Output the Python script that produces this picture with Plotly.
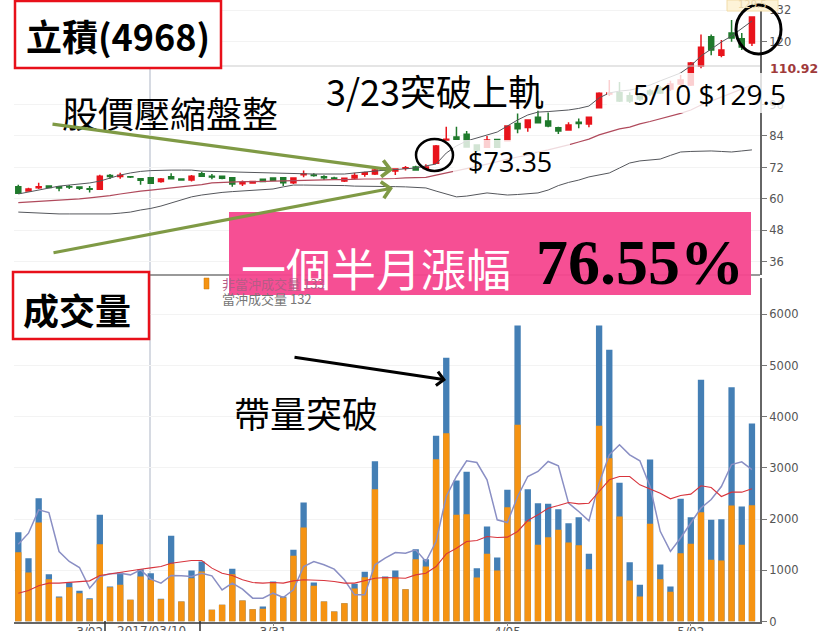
import plotly.graph_objects as go

W = 820
H = 631

# price panel (bar 1 .. bar 73)
bar_no = list(range(1, 74))
open_ = [64.7, 63.0, 64.3, 64.9, 64.7, 64.7, 64.6, 63.9, 63.7, 68.9, 68.6, 68.5, 67.7, 68.1, 66.7, 68.5, 67.6, 67.2, 69.6, 68.7,
         68.7, 68.1, 65.8, 66.1, 67.5, 68.0, 68.1, 66.2, 69.2, 69.1, 68.5, 68.0, 66.8, 68.0, 69.4, 69.5, 71.8, 70.7, 71.7, 72.2,
         71.6, 73.6, 82.5, 83.6, 84.7, 80.6, 79.7, 82.7, 82.2, 88.8, 87.2, 91.1, 89.7, 87.1, 86.3, 89.2, 88.6, 94.8, 100.0, 100.5,
         99.3, 99.2, 101.1, 102.3, 101.9, 103.8, 103.4, 110.7, 121.8, 114.8, 123.2, 121.0, 119.4]
high = [65.4, 64.3, 66.2, 65.0, 64.8, 65.3, 64.7, 64.9, 69.2, 69.5, 70.0, 68.7, 68.0, 68.2, 68.0, 69.8, 67.9, 69.1, 70.4, 69.5,
        68.9, 68.3, 67.0, 66.8, 67.6, 68.1, 68.2, 68.3, 70.8, 69.8, 69.0, 68.5, 68.0, 70.0, 70.4, 71.8, 71.9, 71.5, 72.6, 72.7,
        73.2, 80.6, 87.5, 87.5, 85.9, 80.7, 84.0, 82.8, 88.0, 92.6, 90.4, 93.6, 92.9, 87.5, 89.2, 90.7, 91.1, 100.7, 105.3, 104.6,
        100.7, 100.4, 101.9, 103.0, 105.0, 107.2, 112.2, 122.7, 122.7, 120.6, 128.2, 123.2, 129.5]
low = [62.2, 62.8, 63.8, 64.3, 62.9, 63.8, 63.4, 62.5, 63.4, 67.6, 67.7, 68.0, 65.4, 65.8, 66.2, 67.7, 67.1, 66.7, 68.5, 67.5,
       67.5, 64.7, 64.9, 66.0, 66.5, 67.0, 64.9, 65.7, 68.3, 68.5, 67.2, 67.2, 66.5, 67.5, 68.5, 69.1, 70.6, 69.1, 70.8, 70.8,
       71.0, 73.3, 82.5, 82.8, 79.8, 77.9, 79.4, 79.6, 82.1, 85.0, 85.6, 88.8, 87.3, 84.8, 86.3, 86.9, 87.3, 94.7, 99.2, 96.9,
       96.6, 97.3, 99.2, 100.0, 101.1, 103.4, 103.0, 109.8, 114.8, 114.0, 119.9, 116.8, 118.3]
close = [62.2, 63.8, 64.7, 64.4, 64.2, 64.6, 64.1, 63.7, 68.7, 68.6, 69.0, 68.4, 67.1, 66.0, 67.6, 67.7, 67.2, 68.7, 68.7, 68.4,
         67.9, 65.7, 66.2, 66.7, 66.7, 67.1, 66.2, 68.0, 69.5, 68.9, 68.1, 67.9, 67.9, 68.9, 70.0, 71.0, 71.0, 71.4, 71.9, 71.0,
         72.2, 80.2, 82.8, 82.8, 79.8, 78.7, 82.5, 79.7, 87.8, 86.8, 90.1, 89.0, 87.8, 85.9, 88.2, 88.8, 91.1, 100.3, 100.4, 97.3,
         97.3, 98.1, 100.0, 100.4, 103.8, 105.3, 111.8, 117.8, 116.8, 116.8, 121.3, 117.9, 129.3]
upper = [61.9, 62.7, 63.4, 64.2, 64.9, 65.3, 65.7, 66.1, 66.8, 68.0, 69.1, 69.9, 70.5, 70.8, 71.0, 71.0, 71.0, 71.0, 70.6, 70.5,
         70.3, 70.3, 70.1, 70.1, 69.9, 69.9, 69.7, 69.5, 69.5, 69.5, 69.5, 69.5, 69.5, 69.9, 70.3, 70.6, 71.0, 71.2, 71.4, 71.8,
         72.6, 73.3, 77.5, 80.2, 82.1, 83.2, 84.4, 85.5, 87.8, 90.1, 92.0, 93.1, 93.3, 93.5, 93.9, 94.5, 95.4, 98.5, 100.4, 101.1,
         101.5, 102.3, 103.4, 105.0, 106.5, 108.0, 110.7, 114.5, 117.1, 119.8, 122.1, 124.8, 127.8]
middle = [58.6, 58.8, 59.0, 59.2, 59.4, 59.8, 60.0, 60.4, 60.8, 61.3, 61.9, 62.5, 63.0, 63.4, 63.8, 64.2, 64.6, 64.9, 65.5, 66.1,
          66.3, 66.5, 66.6, 66.6, 66.7, 66.8, 67.0, 67.2, 67.2, 67.4, 67.4, 67.4, 67.4, 67.6, 67.6, 67.6, 67.6, 67.8, 68.0, 68.2,
          68.2, 69.1, 69.9, 70.6, 71.4, 72.4, 73.3, 74.3, 75.2, 76.0, 76.7, 77.9, 78.7, 79.6, 80.6, 81.7, 82.8, 84.4, 85.5, 86.7,
          87.4, 88.6, 89.5, 90.5, 91.6, 92.6, 93.9, 95.8, 97.3, 98.8, 100.4, 101.9, 103.4]
lower = [55.0, 54.8, 54.6, 54.5, 54.3, 54.3, 54.3, 54.3, 54.3, 54.3, 54.6, 55.0, 55.8, 56.4, 57.3, 58.5, 59.6, 60.8, 61.5, 62.1,
         62.5, 62.8, 63.0, 63.2, 63.4, 63.8, 64.6, 65.3, 65.3, 65.3, 65.1, 65.1, 65.1, 64.9, 64.9, 64.9, 64.9, 64.7, 64.6, 64.4,
         64.2, 63.0, 61.9, 60.8, 61.1, 61.7, 62.3, 61.9, 61.5, 61.7, 61.9, 62.3, 63.4, 65.1, 66.3, 67.2, 68.4, 69.1, 69.9, 71.8,
         73.7, 74.5, 74.8, 75.2, 76.6, 77.9, 78.1, 78.3, 78.3, 78.1, 77.9, 78.3, 78.7]

# volume panel
total_vol = [1745, 1237, 2409, 924, 488, 762, 600, 456, 2083, 684, 957, 423, 1022, 944, 443, 1673, 390, 996, 1172, 228,
             325, 1028, 410, 240, 293, 781, 488, 1400, 2324, 762, 390, 195, 358, 736, 970, 3131, 879, 996, 631, 1413,
             1217, 3626, 5149, 2754, 2923, 1042, 1855, 1250, 2571, 5781, 2584, 2311, 2298, 2194, 1920, 2038, 1322, 5781, 5306, 2708,
             1159, 716, 3164, 1113, 684, 2396, 2038, 4720, 1986, 1999, 4577, 2246, 3867]
orange_vol = [1354, 957, 1933, 827, 470, 670, 553, 436, 1510, 670, 716, 423, 879, 814, 436, 1126, 390, 846, 976, 228,
              325, 924, 410, 240, 247, 761, 470, 1282, 1836, 697, 390, 195, 358, 644, 866, 2584, 846, 866, 631, 1217,
              1074, 3170, 3678, 2083, 2096, 859, 1322, 996, 2233, 3841, 1953, 1497, 1647, 1790, 1543, 1491, 1022, 3822, 3190, 2051,
              801, 488, 1907, 827, 579, 1335, 1517, 2135, 1204, 1191, 2265, 1497, 2272]
ma5_vol = [1510, 1725, 2181, 2129, 1367, 1172, 1055, 651, 879, 931, 944, 911, 1009, 827, 749, 898, 892, 879, 944, 892,
           618, 749, 631, 456, 456, 553, 469, 618, 1074, 1172, 1107, 1022, 814, 521, 521, 1107, 1237, 1348, 1335, 1400,
           1172, 1562, 2441, 2832, 3138, 3105, 2767, 1986, 1933, 2441, 2832, 2930, 3125, 3040, 2311, 2148, 1966, 2702, 3255, 3451,
           3255, 3138, 2637, 1761, 1370, 1630, 1924, 2217, 2382, 2637, 3066, 3118, 2968]
ma20_vol = [553, 605, 697, 749, 749, 768, 781, 794, 898, 931, 963, 990, 1022, 1048, 1074, 1139, 1159, 1191, 1191, 1042,
            944, 898, 814, 762, 749, 762, 749, 794, 814, 814, 801, 781, 749, 749, 801, 846, 859, 846, 846, 911,
            944, 1074, 1322, 1432, 1562, 1582, 1660, 1640, 1647, 1758, 1972, 2083, 2213, 2265, 2324, 2298, 2311, 2539, 2767, 2832,
            2832, 2669, 2584, 2506, 2396, 2461, 2487, 2650, 2617, 2441, 2526, 2526, 2591]

price_ticks = [132, 120, 96, 84, 72, 60, 48, 36]
vol_ticks = [0, 1000, 2000, 3000, 4000, 5000, 6000]
date_bars = [8, 26, 49, 67]
date_labels = ["3/02", "3/31", "4/05", "5/02"]

AXIS_FONT = "DejaVu Sans"
CJK = "Noto Sans CJK TC"


def px(x):
    return x / W


def py(y):
    return 1 - y / H


def box(x0, y0, x1, y1, **kw):
    return dict(type="rect", xref="paper", yref="paper", x0=px(x0), x1=px(x1), y0=py(y0), y1=py(y1), **kw)


def seg(x0, y0, x1, y1, color, width, layer="above"):
    return dict(type="line", xref="paper", yref="paper", x0=px(x0), x1=px(x1), y0=py(y0), y1=py(y1),
                line=dict(color=color, width=width), layer=layer)


def label(text, x, y, size, color="black", font=CJK, bold=False, anchor="center"):
    if bold:
        text = "<b>" + text + "</b>"
    return dict(text=text, x=px(x), y=py(y), xref="paper", yref="paper", showarrow=False, xanchor=anchor,
                yanchor="middle", font=dict(size=size, color=color, family=font))


def arrow(x0, y0, x1, y1, color, width, size):
    return dict(x=px(x1), y=py(y1), xref="paper", yref="paper", ax=x0 - x1, ay=y0 - y1, axref="pixel", ayref="pixel",
                text="", showarrow=True, arrowhead=4, arrowwidth=width, arrowsize=size, arrowcolor=color)


fig = go.Figure()

for series in (upper, lower):
    fig.add_trace(go.Scatter(x=bar_no, y=series, mode="lines", line=dict(color="#55575c", width=1), yaxis="y"))
fig.add_trace(go.Scatter(x=bar_no, y=middle, mode="lines", line=dict(color="#b04a5c", width=1.2), yaxis="y"))
fig.add_trace(go.Candlestick(x=bar_no, open=open_, high=high, low=low, close=close, yaxis="y", whiskerwidth=0,
                             increasing=dict(line=dict(color="#e8141c", width=1.5), fillcolor="#e8141c"),
                             decreasing=dict(line=dict(color="#1f7a2c", width=1.5), fillcolor="#1f7a2c")))

# total drawn behind, the orange part in front of it
fig.add_trace(go.Bar(x=bar_no, y=total_vol, width=0.62, marker=dict(color="#447fb5", line_width=0), yaxis="y2"))
fig.add_trace(go.Bar(x=bar_no, y=orange_vol, width=0.62, marker=dict(color="#f59312", line_width=0), yaxis="y2"))
fig.add_trace(go.Scatter(x=bar_no, y=ma5_vol, mode="lines", line=dict(color="#8a8fc4", width=1.5), yaxis="y2"))
fig.add_trace(go.Scatter(x=bar_no, y=ma20_vol, mode="lines", line=dict(color="#d8343c", width=1.1), yaxis="y2"))

shapes = [
    seg(150, 68, 150, 621, "#c9ced9", 1.5, layer="below"),
    seg(222, 66, 760, 66, "#cccccc", 1.2),
    seg(14, 275, 760, 275, "#777777", 1.5),
    seg(105, 621, 105, 631, "#333333", 1.5),
    seg(200, 621, 200, 631, "#333333", 1.5),
    # pale tag of the last price and the half transparent text boxes from the slide
    box(727, 0, 778, 11, fillcolor="#fdf3d8", line=dict(color="#f2dca8", width=1), layer="above"),
    box(325, 70, 545, 108, fillcolor="rgba(255,255,255,0.8)", line_width=0, layer="above"),
    box(453, 140, 570, 178, fillcolor="rgba(255,255,255,0.8)", line_width=0, layer="above"),
    box(607, 73, 790, 113, fillcolor="rgba(255,255,255,0.8)", line_width=0, layer="above"),
    box(229, 212, 751, 295, fillcolor="rgba(246,70,142,0.95)", line_width=0, layer="above"),
    box(204, 278, 209, 289, fillcolor="#f59312", line=dict(color="#c9780e", width=0.5), layer="above"),
    box(15, 1, 221, 68, fillcolor="white", line=dict(color="#e8101a", width=2.5), layer="above"),
    box(13, 272, 149, 339, fillcolor="white", line=dict(color="#e8101a", width=2.5), layer="above"),
    dict(type="circle", xref="paper", yref="paper", x0=px(416), x1=px(453), y0=py(139), y1=py(171),
         line=dict(color="black", width=2.5), layer="above"),
    dict(type="circle", xref="paper", yref="paper", x0=px(736), x1=px(781), y0=py(5), y1=py(54),
         line=dict(color="black", width=3), layer="above"),
]

annotations = [
    label("立積(4968)", 118, 35, 36, bold=True),
    label("成交量", 77, 309, 36, bold=True),
    label("股價壓縮盤整", 170, 112, 36),
    label("3/23突破上軌", 435, 90, 36),
    label("$73.35", 510, 161, 27, font="Open Sans"),
    label("5/10 $129.5", 709, 94, 28, font="Open Sans"),
    label("帶量突破", 306, 412, 36),
    label("一個半月漲幅", 376, 267, 45, color="white"),
    label("76.55%", 640, 262, 64, font="Liberation Serif", bold=True),
    label("110.92", 768, 68, 12.5, color="#a03a3a", font=AXIS_FONT, bold=True, anchor="left"),
    label("129.5", 752, 5, 10, color="#e8d4a8", font=AXIS_FONT),
    label("非當沖成交量 133", 220, 283, 13, color="#b55c86", font=CJK, anchor="left"),
    label("當沖成交量 132", 220, 298, 13, color="#777777", font=CJK, anchor="left"),
    label("2017/03/10", 151, 631, 12, color="#555555", font=AXIS_FONT),
    arrow(51, 124, 393, 170, "#7f9a45", 3.2, 1.0),
    arrow(52, 253, 393, 188, "#7f9a45", 3.2, 1.0),
    arrow(293, 357, 446, 380, "black", 3, 0.9),
]

fig.update_layout(
    width=W,
    height=H,
    margin=dict(l=0, r=0, t=0, b=0, autoexpand=False),
    paper_bgcolor="white",
    plot_bgcolor="white",
    showlegend=False,
    barmode="overlay",
    shapes=shapes,
    annotations=annotations,
    xaxis=dict(domain=[px(14), px(760)], range=[0.578, 73.79], anchor="y2", rangeslider=dict(visible=False),
               automargin=False, tickvals=date_bars, ticktext=date_labels, ticks="outside", ticklen=3,
               ticklabelstandoff=-5, tickcolor="#888888", showgrid=False, zeroline=False, showline=True,
               linecolor="#666666", linewidth=1.5, tickfont=dict(size=12, color="#555555", family=AXIS_FONT)),
    yaxis=dict(domain=[py(275), 1], range=[31.03, 135.81], side="right", anchor="x", tickvals=price_ticks,
               automargin=False, ticks="outside", ticklen=5, tickcolor="#777777", gridcolor="#f3f3f3", zeroline=False,
               showline=True, linecolor="#666666", linewidth=2,
               tickfont=dict(size=11.5, color="#555555", family=AXIS_FONT)),
    yaxis2=dict(domain=[py(621.5), py(278)], range=[0, 6709], side="right", anchor="x", tickvals=vol_ticks,
                automargin=False, ticks="outside", ticklen=5, tickcolor="#777777", gridcolor="#f3f3f3", zeroline=False,
                showline=True, linecolor="#666666", linewidth=2,
                tickfont=dict(size=11.5, color="#555555", family=AXIS_FONT)),
)

fig.write_html("out.html", config=dict(displayModeBar=False), post_script="document.body.style.margin='0';")
